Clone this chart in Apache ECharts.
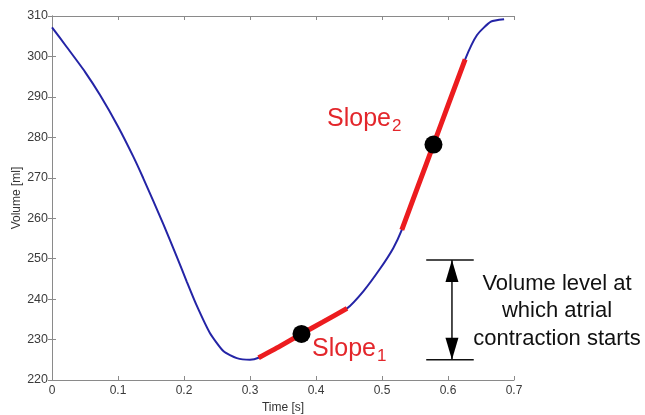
<!DOCTYPE html>
<html>
<head>
<meta charset="utf-8">
<script src="https://cdn.jsdelivr.net/npm/echarts@6/dist/echarts.min.js"></script>
<style>
html,body{margin:0;padding:0;background:#fff;}
#chart{width:645px;height:415px;}
</style>
</head>
<body>
<div id="chart"></div>
<script>
// ---- data ----
var timeValues = [0, 0.022, 0.05, 0.073, 0.1, 0.123, 0.138, 0.169, 0.189, 0.204, 0.219, 0.239, 0.26, 0.28, 0.30, 0.313, 0.345, 0.378, 0.41, 0.447, 0.472, 0.497, 0.517, 0.53, 0.555, 0.578, 0.60, 0.626, 0.644, 0.665, 0.685];
var volumeValues = [307.2, 302.4, 296.2, 290.4, 282.7, 275.3, 270.0, 258.4, 250.5, 244.4, 238.5, 231.7, 227.1, 225.4, 225.0, 225.5, 228.3, 231.4, 234.3, 237.7, 242.0, 247.5, 252.6, 257.1, 268.1, 278.2, 287.9, 299.3, 305.3, 308.6, 309.2];
var slope1Range = [0.313, 0.447];
var slope2Range = [0.53, 0.626];
var dotTimes = [0.378, 0.578];
var dotVolumes = [231.4, 278.2];
var levelUpper = 249.7;
var levelLower = 225.0;
var bracketTimes = [0.567, 0.639];
var arrowTime = 0.606;
var xTicks = [0, 0.7, 0.1];
var yTicks = [220, 310, 10];
var annotationLines = ['Volume level at', 'which atrial', 'contraction starts'];

// ---- build ----
var curve = timeValues.map(function (t, i) { return [t, volumeValues[i]]; });
function segment(r) { return curve.filter(function (p) { return p[0] >= r[0] - 1e-9 && p[0] <= r[1] + 1e-9; }); }
var dots = dotTimes.map(function (t, i) { return [t, dotVolumes[i]]; });

var font = '"Liberation Sans", Arial, sans-serif';
var axisCol = '#8a8a8a';

var chart = echarts.init(document.getElementById('chart'), null, { renderer: 'canvas' });
var commonX = { type: 'value', min: xTicks[0], max: xTicks[1], interval: xTicks[2], splitLine: { show: false } };
var commonY = { type: 'value', min: yTicks[0], max: yTicks[1], interval: yTicks[2], splitLine: { show: false } };

chart.setOption({
  animation: false,
  backgroundColor: '#fff',
  grid: { left: 52, right: 131, top: 16, bottom: 35, containLabel: false, outerBoundsMode: 'none' },
  xAxis: [
    Object.assign({}, commonX, {
      position: 'bottom',
      name: 'Time [s]', nameLocation: 'middle', nameGap: 19,
      nameTextStyle: { fontFamily: font, fontSize: 12, color: '#333' },
      axisLine: { show: true, lineStyle: { color: axisCol, width: 1 } },
      axisTick: { show: true, inside: true, length: 4, lineStyle: { color: axisCol } },
      axisLabel: { fontFamily: font, fontSize: 12, color: '#3a3a3a', margin: 5,
        formatter: function (v) { return +v.toFixed(1) + ''; } }
    }),
    Object.assign({}, commonX, {
      position: 'top',
      axisLine: { show: true, lineStyle: { color: axisCol, width: 1 } },
      axisTick: { show: true, inside: true, length: 4, lineStyle: { color: axisCol } },
      axisLabel: { show: false }
    })
  ],
  yAxis: [
    Object.assign({}, commonY, {
      position: 'left',
      name: 'Volume [ml]', nameLocation: 'middle', nameGap: 29, nameMoveOverlap: false,
      nameTextStyle: { fontFamily: font, fontSize: 12, color: '#333' },
      axisLine: { show: true, lineStyle: { color: axisCol, width: 1 } },
      axisTick: { show: true, inside: true, length: 4, lineStyle: { color: axisCol } },
      axisLabel: { fontFamily: font, fontSize: 12.5, color: '#3a3a3a', margin: 4 }
    }),
    Object.assign({}, commonY, {
      position: 'right',
      axisLine: { show: true, lineStyle: { color: axisCol, width: 1 } },
      axisTick: { show: true, inside: true, length: 4, lineStyle: { color: axisCol } },
      axisLabel: { show: false }
    })
  ],
  series: [
    { type: 'line', data: curve, showSymbol: false, smooth: 0.2, z: 2,
      lineStyle: { color: '#2424a6', width: 2 } },
    { type: 'line', data: segment(slope1Range), showSymbol: false, smooth: 0.2, z: 3,
      lineStyle: { color: '#ec1c1f', width: 5, cap: 'butt' } },
    { type: 'line', data: segment(slope2Range), showSymbol: false, smooth: 0.2, z: 3,
      lineStyle: { color: '#ec1c1f', width: 5, cap: 'butt' } },
    { type: 'scatter', data: dots, symbol: 'circle', symbolSize: 18, z: 4,
      itemStyle: { color: '#000', opacity: 1 } },
    // bracket lines
    { type: 'line', data: [[bracketTimes[0], levelUpper], [bracketTimes[1], levelUpper]], showSymbol: false, z: 3,
      lineStyle: { color: '#111', width: 1.5 } },
    { type: 'line', data: [[bracketTimes[0], levelLower], [bracketTimes[1], levelLower]], showSymbol: false, z: 3,
      lineStyle: { color: '#111', width: 1.5 } },
    { type: 'line', data: [[arrowTime, levelUpper], [arrowTime, levelLower]], showSymbol: false, z: 3,
      lineStyle: { color: '#111', width: 1.5 } },
    { type: 'scatter', data: [[arrowTime, levelUpper]], symbol: 'triangle', symbolSize: [13, 22],
      symbolOffset: [0, '50%'], z: 4, itemStyle: { color: '#000', opacity: 1 } },
    { type: 'scatter', data: [[arrowTime, levelLower]], symbol: 'triangle', symbolSize: [13, 22],
      symbolRotate: 180, symbolOffset: [0, '-50%'], z: 4, itemStyle: { color: '#000', opacity: 1 } }
  ],
  graphic: [
    { type: 'text', left: 327, top: 107, z: 10,
      style: { text: '{m|Slope}{s|2}', rich: {
        m: { fontFamily: font, fontSize: 25, fill: '#e3262b', verticalAlign: 'bottom' },
        s: { fontFamily: font, fontSize: 17, fill: '#e3262b', verticalAlign: 'bottom', padding: [0, 0, -3, 1] } } } },
    { type: 'text', left: 312, top: 337, z: 10,
      style: { text: '{m|Slope}{s|1}', rich: {
        m: { fontFamily: font, fontSize: 25, fill: '#e3262b', verticalAlign: 'bottom' },
        s: { fontFamily: font, fontSize: 17, fill: '#e3262b', verticalAlign: 'bottom', padding: [0, 0, -3, 1] } } } },
    { type: 'text', x: 557, y: 270, z: 10,
      style: { text: annotationLines.join('\n'), fontFamily: font, fontSize: 22, lineHeight: 27.5,
        fill: '#111', align: 'center', verticalAlign: 'top' } }
  ]
});
</script>
</body>
</html>
